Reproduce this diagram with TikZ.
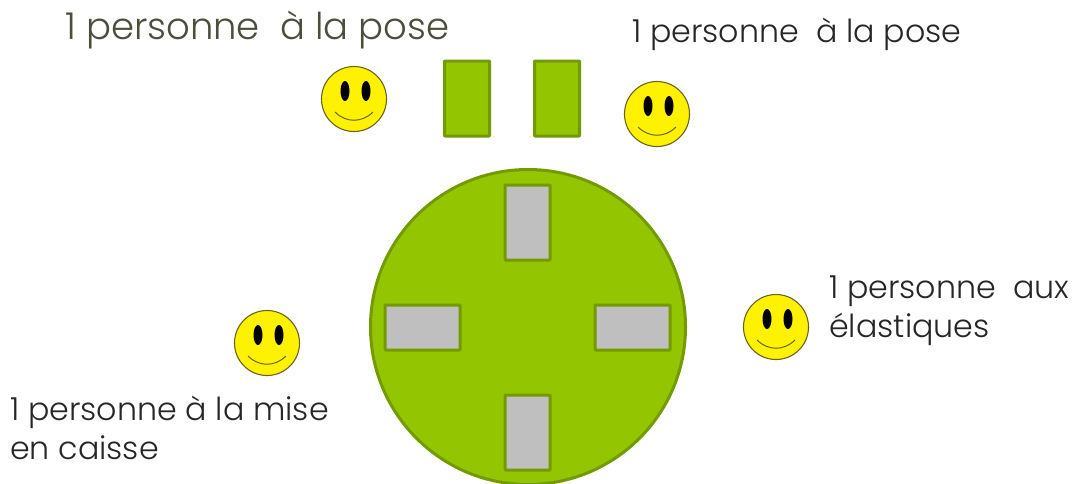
\documentclass[tikz,border=0pt]{standalone}
\usepackage{fontspec}
\setmainfont{Poppins Light}
\usetikzlibrary{positioning}

\begin{document}
\begin{tikzpicture}[x=1pt,y=-1pt,line join=round]
  \tikzstyle{plate}=[draw=plateline,fill=platefill,line width=3pt,inner sep=0pt,minimum width=45pt,minimum height=75pt,rounded corners=0.5pt]
  \tikzstyle{slot}=[plate,fill=slotfill]
  \tikzstyle{slotwide}=[slot,minimum width=75pt,minimum height=45pt]
  \tikzstyle{face}=[circle,draw=faceline,fill=yellow,line width=1.1pt,minimum size=65pt,inner sep=0pt]
  \tikzstyle{label}=[anchor=west,inner sep=0pt,text=black!85,font=\fontsize{31.7pt}{39pt}\selectfont,align=left]
  \definecolor{plateline}{HTML}{739A00}
  \definecolor{platefill}{HTML}{93C600}
  \definecolor{slotfill}{HTML}{BFBFBF}
  \definecolor{faceline}{HTML}{6B6420}
  \definecolor{titletext}{HTML}{4D4D3C}

  \useasboundingbox (0,0) rectangle (1079,483);
  \clip (0,0) rectangle (1079,483);

  \node[circle,draw=plateline,fill=platefill,line width=3pt,minimum size=315pt,inner sep=0pt] (table) at (528,327) {};

  \node[plate] (plateA) at (467,98.5) {};
  \node[plate] (plateB) at (557,98.5) {};

  \node[slot] (slotN) at (527.5,222.5) {};
  \node[slot] (slotS) at (527.5,432.5) {};
  \node[slotwide] (slotW) at (422.5,327.5) {};
  \node[slotwide] (slotE) at (632.5,327.5) {};

  \foreach \name/\x/\y in {faceA/354/99,faceB/657/114,faceC/267/343,faceD/776/327} {
    \node[face] (\name) at (\x,\y) {};
    \fill[black] (\x-9,\y-8) ellipse (4.5pt and 10pt);
    \fill[black] (\x+12,\y-8) ellipse (4.5pt and 10pt);
    \draw[faceline,line width=1pt] (\x-19,\y+13) .. controls (\x-8,\y+24) and (\x+8,\y+24) .. (\x+19,\y+13);
  }

  \node[label,text=titletext,font=\fontsize{37pt}{40pt}\selectfont] (title) at (65,30) {1 personne\ \ à la pose};
  \node[label] (poseB) at (632,34) {1 personne\ \ à la pose};
  \node[label] (elastic) at (829,311) {1 personne\ \ aux\\élastiques};
  \node[label] (caisse) at (10,428) {1 personne à la mise\\en caisse};
\end{tikzpicture}
\end{document}
